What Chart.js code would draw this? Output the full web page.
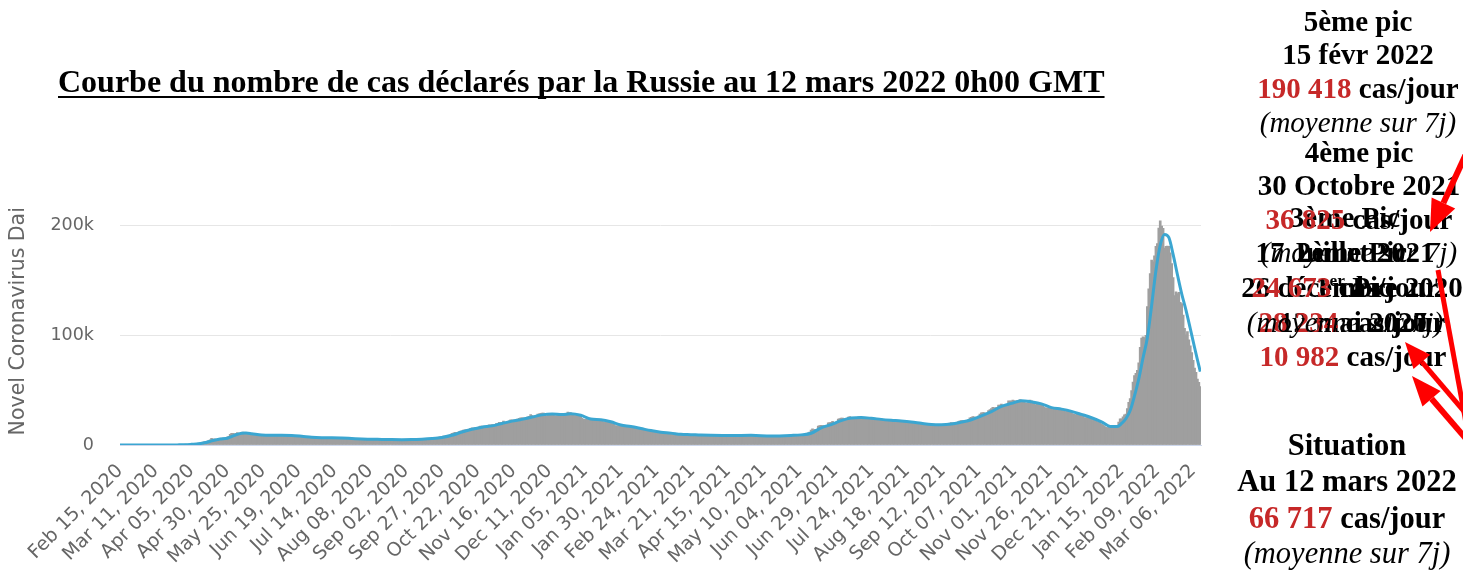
<!DOCTYPE html>
<html>
<head>
<meta charset="utf-8">
<script src="https://cdn.jsdelivr.net/npm/chart.js@4.4.0/dist/chart.umd.min.js"></script>
<style>
  html, body { margin: 0; padding: 0; background: #fff; }
  #wrap { position: relative; width: 1463px; height: 573px; }
</style>
</head>
<body>
<div id="wrap"><canvas id="chart" width="1463" height="573"></canvas></div>
<script>
'use strict';

// x axis: one bar per day from Feb 15, 2020 (day 0) to Mar 11, 2022 (day 755)
const tickLabels = [
  'Feb 15, 2020', 'Mar 11, 2020', 'Apr 05, 2020', 'Apr 30, 2020', 'May 25, 2020',
  'Jun 19, 2020', 'Jul 14, 2020', 'Aug 08, 2020', 'Sep 02, 2020', 'Sep 27, 2020',
  'Oct 22, 2020', 'Nov 16, 2020', 'Dec 11, 2020', 'Jan 05, 2021', 'Jan 30, 2021',
  'Feb 24, 2021', 'Mar 21, 2021', 'Apr 15, 2021', 'May 10, 2021', 'Jun 04, 2021',
  'Jun 29, 2021', 'Jul 24, 2021', 'Aug 18, 2021', 'Sep 12, 2021', 'Oct 07, 2021',
  'Nov 01, 2021', 'Nov 26, 2021', 'Dec 21, 2021', 'Jan 15, 2022', 'Feb 09, 2022',
  'Mar 06, 2022'
];
const tickStep = 25;

// daily new cases, in thousands
const dailyCases = [
  // 2020-02 (from the 15th)
  0,0,0,0,0,0,0,0,0,0, 0,0,0,0,0,
  // 2020-03
  0,0,0,0,0,0,0,0,0,0, 0,0,0,0,0,0,0,0,0.1,0.1, 0.1,0.1,0.1,0.1,0.2,0.2,0.2,0.2,0.3,0.3, 0.5,
  // 2020-04
  0.8,0.6,0.6,0.6,0.7,1.0,1.2,1.2,1.5,1.8, 1.7,2.2,2.6,2.8,3.4,3.4,4.1,4.8,6.1,4.3, 5.6,5.2,4.8,5.8,6.0,6.4,6.2,6.4,5.8,7.1,
  // 2020-05
  7.9,9.6,10.6,10.6,10.1,10.6,11.2,10.7,10.8,11.0, 11.7,10.9,10.0,10.0,10.6,9.2,9.7,8.9,9.3,8.8, 8.8,8.9,9.4,8.6,8.9,8.9,8.3,8.4,8.6,9.0, 9.3,
  // 2020-06
  9.0,8.9,8.5,8.8,8.7,8.9,8.9,8.9,8.6,8.4, 8.8,8.8,8.8,8.8,8.2,8.2,7.8,7.8,7.8,8.0, 7.9,7.6,7.4,7.2,7.1,7.0,6.8,6.8,6.7,6.6,
  // 2020-07
  6.6,6.8,6.8,6.6,6.7,6.6,6.4,6.6,6.6,6.6, 6.6,6.6,6.5,6.2,6.4,6.4,6.4,6.2,6.1,6.1, 5.8,5.9,5.8,5.8,5.8,5.8,5.6,5.4,5.5,5.5, 5.5,
  // 2020-08
  5.5,5.4,5.4,5.2,5.2,5.2,5.2,5.2,5.2,5.1, 5.1,5.1,5.1,5.1,5.1,5.0,4.9,4.9,4.8,4.8, 4.9,4.9,4.9,4.9,4.8,4.7,4.7,4.7,4.9,4.9, 4.7,
  // 2020-09
  4.7,4.7,4.9,5.0,5.2,5.2,5.2,5.1,5.4,5.4, 5.4,5.4,5.4,5.5,5.5,5.7,5.9,6.1,6.1,6.2, 6.4,6.2,6.6,6.4,7.2,7.5,7.9,8.1,8.2,8.2,
  // 2020-10
  8.5,9.0,9.4,10.5,10.9,11.6,11.1,11.5,12.1,12.7, 12.8,13.6,13.9,13.8,13.8,14.2,15.1,15.7,15.2,15.9, 15.7,15.2,16.6,17.3,17.2,16.6,16.2,16.6,17.7,18.3, 18.1,
  // 2020-11
  18.6,18.3,18.3,19.4,19.8,20.6,20.6,20.4,21.8,20.9, 19.9,21.6,22.0,22.8,22.6,22.6,21.0,22.4,23.6,24.3, 24.6,24.6,24.6,23.4,23.7,25.5,26.0,27.6,26.7,26.3,
  // 2020-12
  25.2,26.0,28.1,28.4,28.8,29.0,29.0,28.1,26.1,27.9, 28.6,28.6,28.6,27.3,26.4,26.8,27.9,28.2,28.5,28.9, 28.0,26.9,28.0,29.9,29.5,29.2,28.3,27.0,26.5,27.0, 27.0,
  // 2021-01
  27.0,26.5,24.2,23.4,23.3,23.3,24.2,23.4,23.3,22.9, 23.0,22.2,22.9,23.4,23.3,22.8,21.6,21.1,20.6,21.1, 21.4,21.2,20.9,19.3,19.4,17.7,17.5,17.6,17.4,18.5, 18.4,
  // 2021-02
  17.0,16.6,16.4,16.7,16.4,16.1,16.0,15.4,14.9,14.5, 14.9,15.0,14.5,14.2,13.4,13.4,12.8,12.7,12.6,12.9, 12.7,11.5,11.3,11.4,11.7,11.3,11.5,11.5,
  // 2021-03
  11.0,11.0,10.6,10.6,10.9,10.2,10.0,9.7,9.7,9.3, 9.7,9.9,9.4,9.2,9.3,9.9,9.3,9.5,9.4,9.3, 9.3,9.2,8.6,8.8,9.1,9.1,9.1,9.0,8.5,8.5, 8.8,
  // 2021-04
  8.8,8.6,9.1,8.6,8.6,8.4,8.4,8.7,8.9,8.7, 8.6,8.8,8.2,8.6,8.3,8.7,8.7,8.7,8.6,8.6, 9.2,8.8,8.9,8.7,8.8,8.8,8.7,8.6,8.7,8.7,
  // 2021-05
  9.3,8.4,8.4,8.4,7.9,8.3,8.0,8.0,8.2,8.6, 7.9,7.8,8.2,8.2,8.3,8.3,8.2,8.3,8.2,8.2, 8.5,8.6,8.6,8.6,8.6,8.4,8.4,9.1,9.1,9.3, 8.9,
  // 2021-06
  9.4,9.2,9.3,9.0,9.3,9.6,9.1,9.3,10.4,11.1, 11.7,13.5,14.7,13.7,14.2,14.1,17.3,17.6,17.9,17.7, 17.4,16.7,17.6,20.2,20.4,20.5,21.6,20.5,20.6,21.0,
  // 2021-07
  23.5,24.0,24.4,24.4,23.9,23.0,24.0,25.3,25.8,25.1, 24.6,24.0,24.7,25.2,25.3,25.7,25.0,25.1,24.4,23.9, 23.7,24.5,24.1,24.1,23.9,23.2,23.2,22.6,22.8,23.3, 23.8,
  // 2021-08
  22.6,22.4,22.1,22.6,22.6,22.6,22.4,21.9,21.6,21.9, 21.9,21.9,21.6,21.6,21.0,20.9,20.9,20.6,21.0,20.9, 20.8,20.0,19.8,20.0,20.0,19.6,19.3,19.1,18.9,18.8, 18.8,
  // 2021-09
  18.3,18.4,18.4,18.8,18.6,17.9,17.8,17.8,18.3,18.8, 18.8,18.7,17.9,17.8,18.8,19.6,19.9,20.3,20.0,20.2, 19.7,20.0,21.4,21.9,22.2,22.1,21.6,21.9,22.4,23.0,
  // 2021-10
  24.6,25.1,25.8,25.7,25.1,25.1,26.4,28.0,29.2,29.4, 29.4,28.2,28.7,31.3,32.2,33.2,34.3,33.7,34.1,34.1, 36.3,36.4,37.1,35.7,35.8,36.4,36.6,40.1,40.0,40.2, 40.9,
  // 2021-11
  40.4,39.4,40.4,40.2,41.3,39.8,39.2,39.2,38.0,38.1, 39.2,40.8,40.1,39.3,37.1,36.6,37.0,37.2,37.4,37.2, 35.7,34.3,33.6,33.9,33.6,33.6,33.0,32.1,32.6,32.9,
  // 2021-12
  33.0,32.6,32.9,32.3,31.4,30.6,30.3,30.9,30.3,30.7, 29.9,28.3,27.9,27.4,28.0,27.8,27.9,27.2,26.5,25.0, 24.7,24.9,25.1,24.4,23.3,22.3,22.4,21.8,21.1,21.0, 20.4,
  // 2022-01
  19.0,18.2,17.4,16.1,15.8,16.1,16.0,16.7,17.5,17.5, 16.2,17.5,20.9,23.7,23.8,25.6,27.5,28.0,33.0,38.8, 42.3,49.5,57.2,63.2,65.1,67.8,74.7,88.8,97.1,98.4, 97.7,
  // 2022-02
  99.7,125.8,141.9,155.8,168.2,166.6,171.9,180.5,183.1,197.1, 203.9,199.0,197.0,179.1,180.5,180.9,180.6,174.7,165.0,152.3, 135.8,139.2,137.6,138.9,129.8,128.6,118.1,106.0,
  // 2022-03 (to the 11th)
  100.1,103.0,95.7,90.1,84.0,77.0,70.0,66.0,60.0,57.0, 53.0
];

// 7-day average, in thousands, read at the day numbers below
const avgDays = [
  0, 30, 40, 45, 50, 55, 60, 65, 70, 75, 80, 85, 88, 92, 99, 106, 113, 120, 127, 134,
  141, 148, 155, 162, 169, 176, 183, 190, 197, 204, 211, 218, 225, 232, 239, 246, 253, 260, 267, 274,
  281, 288, 295, 302, 309, 315, 322, 329, 336, 343, 350, 357, 364, 371, 378, 385, 392, 399, 406, 413,
  427, 441, 455, 469, 476, 483, 490, 497, 504, 511, 518, 525, 532, 539, 546, 553, 560, 567, 574, 581,
  588, 595, 602, 609, 616, 623, 630, 637, 644, 651, 658, 665, 672, 679, 686, 692, 697, 700, 703, 706,
  709, 712, 715, 718, 721, 724, 727, 730, 733, 736, 739, 742, 745, 748, 751, 753, 755
];
const avgCases = [
  0, 0, 0.1, 0.2, 0.6, 1.1, 2.3, 4.1, 5.4, 6.2, 8.8, 10.7, 10.9, 10.3, 9.0, 8.8, 8.8, 8.7, 8.0, 7.1,
  6.7, 6.6, 6.3, 5.9, 5.5, 5.2, 5.1, 4.9, 4.8, 4.9, 5.3, 5.9, 6.9, 8.8, 11.8, 14.3, 16.2, 17.4, 19.6, 21.7,
  23.3, 25.4, 27.4, 28.1, 27.7, 28.4, 27.0, 23.6, 22.9, 21.1, 18.2, 16.8, 15.0, 13.1, 11.6, 10.8, 9.7, 9.4, 9.0, 8.8,
  8.6, 8.8, 8.2, 8.7, 9.2, 10.7, 15.6, 18.6, 22.2, 24.5, 24.9, 24.3, 23.3, 22.5, 21.8, 20.9, 19.7, 18.6, 18.3, 19.0,
  20.8, 23.0, 26.5, 30.3, 35.1, 37.8, 40.3, 39.2, 37.4, 34.0, 32.6, 30.6, 27.8, 24.8, 21.1, 16.9, 16.8, 19.6, 23.9, 31.3,
  44.6, 60.0, 79.3, 97.5, 126.8, 158.7, 181.6, 191.4, 188.7, 173.3, 155.0, 137.5, 122.7, 105.9, 88.6, 77.5, 66.7
];

const yTicks = [0, 100, 200];
const yTitle = 'Novel Coronavirus Dai';
const chartTitle = 'Courbe du nombre de cas déclarés par la Russie au 12 mars 2022 0h00 GMT';

const RED = '#c62828';
const ARROW = '#ff0000';

// annotation blocks on the right
const notes = [
  { cx: 1353, size: 29, rows: [
    [297, [{ t: '1' }, { t: 'er', sup: true }, { t: ' Pic' }]],
    [332, [{ t: '12 mai 2020' }]],
    [366, [{ t: '10 982', c: RED }, { t: ' cas/jour' }]]
  ]},
  { cx: 1352, size: 29, rows: [
    [262, [{ t: '2ème Pic' }]],
    [297, [{ t: '26 décembre 2020' }]],
    [332, [{ t: '28 234', c: RED }, { t: ' cas/jour' }]]
  ]},
  { cx: 1345, size: 29, rows: [
    [227, [{ t: '3ème Pic' }]],
    [262, [{ t: '17 Juillet 2021' }]],
    [297, [{ t: '24 673', c: RED }, { t: ' cas/jour' }]],
    [332, [{ t: '(moyenne sur 7j)', it: true }]]
  ]},
  { cx: 1359, size: 29, rows: [
    [162, [{ t: '4ème pic' }]],
    [195, [{ t: '30 Octobre 2021' }]],
    [229, [{ t: '36 825', c: RED }, { t: ' cas/jour' }]],
    [262, [{ t: '(moyenne sur 7j)', it: true }]]
  ]},
  { cx: 1358, size: 29, rows: [
    [31, [{ t: '5ème pic' }]],
    [64, [{ t: '15 févr 2022' }]],
    [98, [{ t: '190 418', c: RED }, { t: ' cas/jour' }]],
    [132, [{ t: '(moyenne sur 7j)', it: true }]]
  ]},
  { cx: 1347, size: 30.5, rows: [
    [455, [{ t: 'Situation' }]],
    [491, [{ t: 'Au 12 mars 2022' }]],
    [528, [{ t: '66 717', c: RED }, { t: ' cas/jour' }]],
    [563, [{ t: '(moyenne sur 7j)', it: true }]]
  ]}
];

const arrows = [
  { from: [1478, 128], to: [1430, 232], w: 6, head: 32, hw: 13 },
  { from: [1470, 445], to: [1438, 270], w: 5, head: 0, hw: 0 },
  { from: [1480, 455], to: [1412, 376], w: 6, head: 30, hw: 12 },
  { from: [1480, 430], to: [1405, 342], w: 5, head: 26, hw: 11 }
];

function fontFor(part, size) {
  const s = part.sup ? size * 0.6 : size;
  return (part.it ? 'italic ' : 'bold ') + s + 'px "Liberation Serif"';
}

function drawRow(ctx, cx, y, parts, size) {
  let total = 0;
  parts.forEach(p => { ctx.font = fontFor(p, size); p.w = ctx.measureText(p.t).width; total += p.w; });
  let x = cx - total / 2;
  parts.forEach(p => {
    ctx.font = fontFor(p, size);
    ctx.fillStyle = p.c || '#000';
    ctx.fillText(p.t, x, p.sup ? y - size * 0.38 : y);
    x += p.w;
  });
}

function drawArrow(ctx, a) {
  const [x1, y1] = a.from, [x2, y2] = a.to;
  const ang = Math.atan2(y2 - y1, x2 - x1);
  const bx = x2 - Math.cos(ang) * a.head, by = y2 - Math.sin(ang) * a.head;
  ctx.strokeStyle = ARROW;
  ctx.fillStyle = ARROW;
  ctx.lineWidth = a.w;
  ctx.lineCap = 'butt';
  ctx.beginPath();
  ctx.moveTo(x1, y1);
  ctx.lineTo(a.head ? bx : x2, a.head ? by : y2);
  ctx.stroke();
  if (a.head) {
    const nx = -Math.sin(ang), ny = Math.cos(ang);
    ctx.beginPath();
    ctx.moveTo(x2, y2);
    ctx.lineTo(bx + nx * a.hw, by + ny * a.hw);
    ctx.lineTo(bx - nx * a.hw, by - ny * a.hw);
    ctx.closePath();
    ctx.fill();
  }
}

const overlay = {
  id: 'overlay',
  afterDraw(chart) {
    const ctx = chart.ctx;
    ctx.save();
    ctx.textBaseline = 'alphabetic';
    ctx.textAlign = 'left';

    // underlined title
    ctx.font = 'bold 32px "Liberation Serif"';
    ctx.fillStyle = '#000';
    ctx.fillText(chartTitle, 58, 92);
    const tw = ctx.measureText(chartTitle).width;
    ctx.fillRect(58, 96, tw, 2);

    notes.forEach(n => n.rows.forEach(r => drawRow(ctx, n.cx, r[0], r[1], n.size)));
    arrows.forEach(a => drawArrow(ctx, a));
    ctx.restore();
  }
};

new Chart(document.getElementById('chart'), {
  data: {
    datasets: [
      {
        type: 'line',
        label: '7-day average',
        data: avgDays.map((d, i) => ({ x: d, y: avgCases[i] })),
        borderColor: '#3ba6d1',
        borderWidth: 3,
        pointRadius: 0,
        cubicInterpolationMode: 'monotone',
        order: 0
      },
      {
        type: 'bar',
        label: 'Daily cases',
        data: dailyCases.map((v, i) => ({ x: i, y: v })),
        backgroundColor: '#9f9f9f',
        barThickness: 2,
        borderWidth: 0,
        order: 1
      }
    ]
  },
  options: {
    responsive: false,
    animation: false,
    events: [],
    layout: { padding: { top: 197.5, right: 262, bottom: 0, left: 0 } },
    plugins: { legend: { display: false }, tooltip: { enabled: false } },
    scales: {
      x: {
        type: 'linear',
        min: 0,
        max: 755.5,
        offset: false,
        afterFit(scale) { scale.height = 128; },
        grid: { display: false },
        border: { display: true, color: '#ccd6eb', width: 1 },
        ticks: {
          stepSize: tickStep,
          includeBounds: false,
          maxTicksLimit: 40,
          autoSkip: false,
          minRotation: 45,
          maxRotation: 45,
          padding: 7,
          color: '#666',
          font: { family: 'DejaVu Sans', size: 19 },
          callback: v => tickLabels[Math.round(v / tickStep)] || ''
        }
      },
      y: {
        min: 0,
        max: 225,
        afterFit(scale) { scale.width = 120; },
        grid: { color: '#e6e6e6', drawTicks: false },
        border: { display: false },
        title: {
          display: true,
          text: yTitle,
          color: '#666',
          padding: { top: 6, bottom: 0 },
          font: { family: 'DejaVu Sans', size: 20.5, weight: 'normal' }
        },
        ticks: {
          stepSize: 100,
          includeBounds: false,
          padding: 26,
          color: '#666',
          font: { family: 'DejaVu Sans', size: 17.5 },
          callback: v => (yTicks.includes(v) ? (v === 0 ? '0' : v + 'k') : '')
        }
      }
    }
  },
  plugins: [overlay]
});
</script>
</body>
</html>
